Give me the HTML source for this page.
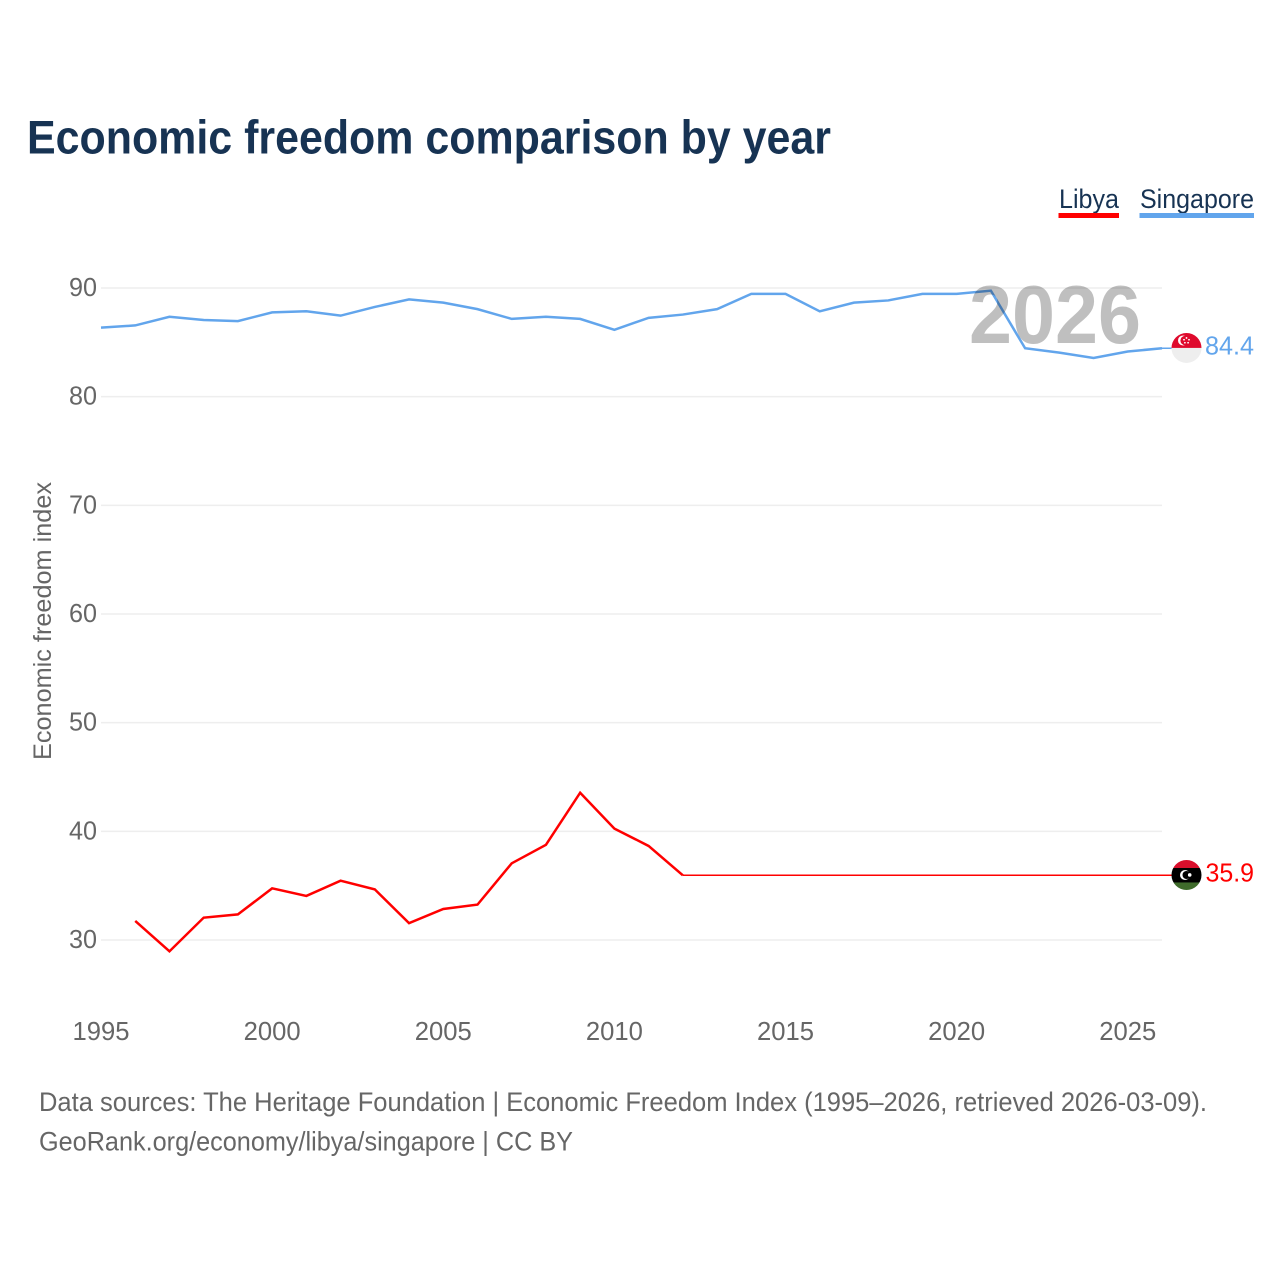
<!DOCTYPE html>
<html lang="en">
<head>
<meta charset="utf-8">
<title>Economic freedom comparison by year</title>
<style>
html,body{margin:0;padding:0;background:#fff;width:1280px;height:1280px;overflow:hidden}
svg{display:block}
text{font-family:"Liberation Sans",sans-serif}
</style>
</head>
<body>
<svg id="chart" xmlns="http://www.w3.org/2000/svg" width="1280" height="1280" viewBox="0 0 1280 1280">
  <defs>
    <clipPath id="flag-clip-sg"><circle cx="0" cy="0" r="15"/></clipPath>
    <clipPath id="flag-clip-ly"><circle cx="0" cy="0" r="15"/></clipPath>
  </defs>
  <rect width="1280" height="1280" fill="#fff"/>
  <text x="27" y="153.5" font-size="47" font-weight="bold" fill="#173353" textLength="804" lengthAdjust="spacingAndGlyphs">Economic freedom comparison by year</text>

  <g>
    <text x="1059" y="208" font-size="27" fill="#173353" textLength="60" lengthAdjust="spacingAndGlyphs">Libya</text>
    <rect x="1058.5" y="213" width="60.5" height="5" fill="#ff0000"/>
  </g>
  <g>
    <text x="1140" y="208" font-size="27" fill="#173353" textLength="114" lengthAdjust="spacingAndGlyphs">Singapore</text>
    <rect x="1139.5" y="213" width="114.5" height="5" fill="#62a5ec"/>
  </g>

  <g id="grid"></g>
  <g id="yticks"></g>
  <g id="xticks"></g>
  <text transform="translate(51,621) rotate(-90)" text-anchor="middle" font-size="25" fill="#666" textLength="278" lengthAdjust="spacingAndGlyphs">Economic freedom index</text>
  <g id="series"></g>

  <text x="969" y="343" font-size="83" font-weight="bold" fill="#000" fill-opacity="0.25" textLength="172" lengthAdjust="spacingAndGlyphs">2026</text>

  <g id="flag-sg" clip-path="url(#flag-clip-sg)">
    <rect x="-15" y="-15" width="30" height="15" fill="#df0a2d"/>
    <rect x="-15" y="0" width="30" height="15" fill="#eeeeee"/>
    <circle cx="-3.5" cy="-7.5" r="5" fill="#fff"/>
    <circle cx="-1.5" cy="-7.5" r="4.6" fill="#df0a2d"/>
    <g fill="#fff">
      <circle cx="0" cy="-10" r="0.9"/><circle cx="2.5" cy="-8.2" r="0.9"/><circle cx="1.6" cy="-5.2" r="0.9"/><circle cx="-1.6" cy="-5.2" r="0.9"/><circle cx="-2.5" cy="-8.2" r="0.9"/>
    </g>
  </g>
  <g id="flag-ly" clip-path="url(#flag-clip-ly)">
    <rect x="-15" y="-15" width="30" height="8" fill="#d90f2c"/>
    <rect x="-15" y="-7" width="30" height="14.5" fill="#000"/>
    <rect x="-15" y="7.5" width="30" height="8" fill="#3f6b2b"/>
    <circle cx="-1.5" cy="0" r="5" fill="#fff"/>
    <circle cx="0" cy="0" r="4" fill="#000"/>
    <circle cx="3.2" cy="0" r="1.8" fill="#fff"/>
  </g>
  <text id="label-sg" x="1205" font-size="26" fill="#62a5ec" textLength="49" lengthAdjust="spacingAndGlyphs"></text>
  <text id="label-ly" x="1205.5" font-size="26" fill="#ff0000" textLength="48.5" lengthAdjust="spacingAndGlyphs"></text>

  <text x="39" y="1111" font-size="26.5" fill="#666" textLength="1168" lengthAdjust="spacingAndGlyphs">Data sources: The Heritage Foundation | Economic Freedom Index (1995–2026, retrieved 2026-03-09).</text>
  <text x="39" y="1150.5" font-size="26.5" fill="#666" textLength="534" lengthAdjust="spacingAndGlyphs">GeoRank.org/economy/libya/singapore | CC BY</text>
</svg>
<script>
const years = [1995,1996,1997,1998,1999,2000,2001,2002,2003,2004,2005,2006,2007,2008,2009,2010,2011,2012,2013,2014,2015,2016,2017,2018,2019,2020,2021,2022,2023,2024,2025,2026];
const singaporeValues = [86.3,86.5,87.3,87.0,86.9,87.7,87.8,87.4,88.2,88.9,88.6,88.0,87.1,87.3,87.1,86.1,87.2,87.5,88.0,89.4,89.4,87.8,88.6,88.8,89.4,89.4,89.7,84.4,84.0,83.5,84.1,84.4];
const libyaValues = [null,31.7,28.9,32.0,32.3,34.7,34.0,35.4,34.6,31.5,32.8,33.2,37.0,38.7,43.5,40.2,38.6,35.9,35.9,35.9,35.9,35.9,35.9,35.9,35.9,35.9,35.9,35.9,35.9,35.9,35.9,35.9];
const yTickValues = [30,40,50,60,70,80,90];
const xTickValues = [1995,2000,2005,2010,2015,2020,2025];

const NS = 'http://www.w3.org/2000/svg';
const xScale = function (yr) { return 101 + (yr - 1995) * (1162 - 101) / 31; };
const yScale = function (v) { return 940 - (v - 30) * (940 - 288) / 60; };
const CONNECTOR_END = 1172;
const SERIES_NUDGE = -0.6;

function make(tag, parent, attrs) {
  const el = document.createElementNS(NS, tag);
  Object.keys(attrs).forEach(function (k) { el.setAttribute(k, attrs[k]); });
  parent.appendChild(el);
  return el;
}

const grid = document.getElementById('grid');
const yticks = document.getElementById('yticks');
const xticks = document.getElementById('xticks');
const seriesGroup = document.getElementById('series');

yTickValues.forEach(function (v) {
  const line = make('line', grid, {x1: 101, x2: 1162, y1: yScale(v), y2: yScale(v), stroke: '#eeeeee', 'stroke-width': 1.5});
  
  
  const t = make('text', yticks, {x: 97, y: yScale(v) + 8, 'text-anchor': 'end', 'font-size': 26, fill: '#666', textLength: 28, lengthAdjust: 'spacingAndGlyphs'});
  
  
  t.textContent = v;
});

xTickValues.forEach(function (yr) {
  const t = make('text', xticks, {x: xScale(yr), y: 1040, 'text-anchor': 'middle', 'font-size': 26, fill: '#666', textLength: 57, lengthAdjust: 'spacingAndGlyphs'});
  
  
  t.textContent = yr;
});

function drawSeries(values, color, name) {
  const last = values[values.length - 1];
  const lastY = yScale(last) + SERIES_NUDGE;
  let flatStart = values.length - 1;
  while (flatStart > 0 && values[flatStart - 1] === last) { flatStart--; }
  const pts = [];
  values.forEach(function (v, i) {
    if (v !== null && i <= flatStart) { pts.push(xScale(years[i]).toFixed(2) + ',' + (yScale(v) + SERIES_NUDGE).toFixed(2)); }
  });
  const tail = [xScale(years[flatStart]).toFixed(2) + ',' + lastY.toFixed(2), CONNECTOR_END + ',' + lastY.toFixed(2)];
  const line = make('polyline', seriesGroup, {points: pts.join(' '), fill: 'none', stroke: color, 'stroke-width': 2.5, 'stroke-linejoin': 'miter'});
  
  
  const tailLine = make('polyline', seriesGroup, {points: tail.join(' '), fill: 'none', stroke: color, 'stroke-width': 1.5});
  
  
  return lastY;
}

const sgY = drawSeries(singaporeValues, '#62a5ec', 'singapore-line');
const lyY = drawSeries(libyaValues, '#ff0000', 'libya-line');

document.getElementById('flag-sg').setAttribute('transform', 'translate(1186.5,' + (sgY - 0.3) + ')');
document.getElementById('flag-ly').setAttribute('transform', 'translate(1186.5,' + (lyY - 0.3) + ')');

const labelSg = document.getElementById('label-sg');
labelSg.setAttribute('y', sgY + 6);
labelSg.textContent = singaporeValues[singaporeValues.length - 1].toFixed(1);
const labelLy = document.getElementById('label-ly');
labelLy.setAttribute('y', lyY + 6);
labelLy.textContent = libyaValues[libyaValues.length - 1].toFixed(1);
</script>
</body>
</html>
